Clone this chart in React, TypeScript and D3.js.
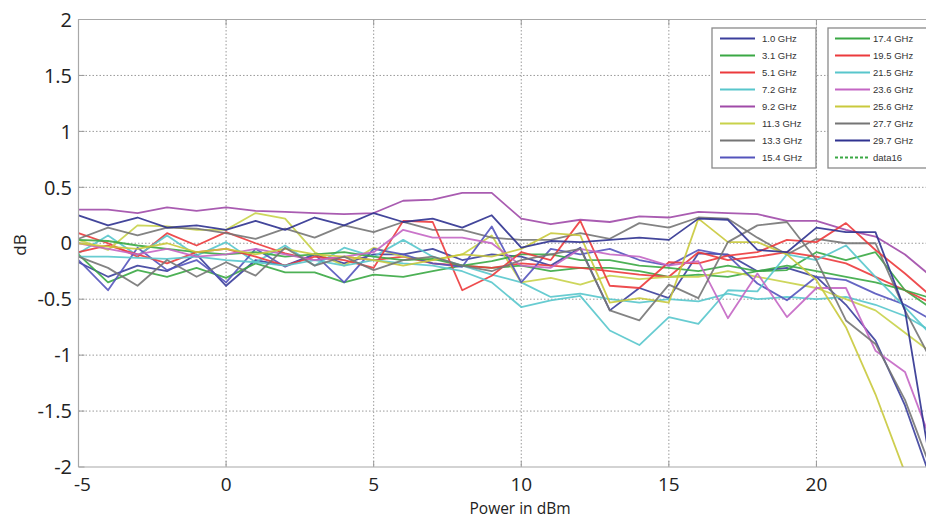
import React from "react";
import * as d3 from "d3";

const powers = [-5,-4,-3,-2,-1,0,1,2,3,4,5,6,7,8,9,10,11,12,13,14,15,16,17,18,19,20,21,22,23,24];

const seriesNames = ["1.0 GHz","3.1 GHz","5.1 GHz","7.2 GHz","9.2 GHz","11.3 GHz","13.3 GHz","15.4 GHz","17.4 GHz","19.5 GHz","21.5 GHz","23.6 GHz","25.6 GHz","27.7 GHz","29.7 GHz","data16"];
const seriesColors = ["#3b3f9c","#3aa844","#ec3a3c","#58c6cc","#a04aa8","#c8d24a","#757575","#5454bc","#3aa844","#ec3a3c","#58c6cc","#c466c4","#c9c93c","#757575","#2f3290","#3aa844"];

const s1_0 = [-0.17,-0.30,-0.20,-0.25,-0.10,-0.38,-0.15,-0.20,-0.10,-0.18,-0.10,-0.10,-0.05,-0.15,-0.10,-0.12,-0.20,-0.04,-0.60,-0.40,-0.49,-0.09,-0.10,-0.25,-0.22,-0.30,-0.55,-0.87,-1.45,-2.20];
const s3_1 = [-0.10,-0.35,-0.24,-0.30,-0.22,-0.31,-0.18,-0.26,-0.26,-0.35,-0.28,-0.30,-0.25,-0.20,-0.22,-0.20,-0.25,-0.22,-0.22,-0.25,-0.30,-0.28,-0.30,-0.25,-0.24,-0.08,-0.15,-0.08,-0.42,-0.60];
const s5_1 = [0.09,0.00,-0.12,0.09,-0.02,0.10,0.00,-0.09,-0.15,-0.12,-0.15,-0.12,-0.18,-0.20,-0.22,-0.18,-0.20,-0.22,-0.25,-0.28,-0.30,-0.08,-0.15,-0.12,-0.08,-0.12,-0.18,-0.30,-0.42,-0.55];
const s7_2 = [-0.09,0.07,-0.11,0.07,-0.11,0.01,-0.17,-0.02,-0.20,-0.04,-0.12,0.03,-0.12,-0.20,-0.28,-0.35,-0.48,-0.45,-0.50,-0.53,-0.50,-0.52,-0.45,-0.50,-0.48,-0.50,-0.48,-0.55,-0.65,-0.80];
const s9_2 = [0.30,0.30,0.27,0.32,0.29,0.32,0.29,0.28,0.27,0.26,0.27,0.38,0.39,0.45,0.45,0.22,0.17,0.21,0.19,0.24,0.23,0.28,0.27,0.26,0.20,0.20,0.12,0.06,-0.10,-0.32];
const s11_3 = [0.03,-0.06,0.16,0.15,0.12,0.12,0.27,0.22,-0.08,-0.20,-0.04,-0.12,-0.15,-0.10,0.07,-0.35,-0.31,-0.37,-0.29,-0.32,-0.30,-0.30,-0.25,-0.30,-0.35,-0.40,-0.50,-0.60,-0.80,-1.00];
const s13_3 = [0.04,0.14,0.07,0.14,0.13,0.09,0.04,0.13,0.05,0.16,0.10,0.19,0.12,0.12,0.05,0.03,0.03,0.09,0.04,0.18,0.14,0.23,0.22,0.05,-0.10,0.04,0.00,0.00,-0.60,-1.10];
const s15_4 = [-0.15,-0.42,-0.04,-0.24,-0.15,-0.35,-0.05,-0.21,-0.10,-0.35,-0.05,-0.10,-0.18,-0.21,0.15,-0.35,-0.05,-0.10,-0.05,-0.15,-0.20,-0.06,-0.11,-0.36,-0.51,-0.30,-0.33,-0.45,-0.55,-0.70];
const s17_4 = [0.03,0.02,-0.02,-0.05,-0.08,-0.10,-0.08,-0.12,-0.10,-0.08,-0.12,-0.15,-0.14,-0.20,-0.16,-0.10,-0.10,-0.15,-0.15,-0.20,-0.22,-0.25,-0.20,-0.25,-0.20,-0.25,-0.30,-0.35,-0.42,-0.50];
const s19_5 = [-0.08,-0.02,-0.10,-0.18,-0.08,-0.05,-0.12,-0.20,-0.12,-0.15,-0.22,0.20,0.19,-0.42,-0.29,-0.08,-0.15,0.20,-0.38,-0.40,-0.17,-0.18,-0.11,-0.08,0.03,0.01,0.18,-0.06,-0.27,-0.50];
const s21_5 = [-0.12,-0.12,-0.13,-0.14,-0.12,-0.15,-0.17,-0.20,-0.15,-0.20,-0.15,-0.18,-0.20,-0.25,-0.35,-0.57,-0.51,-0.47,-0.78,-0.91,-0.66,-0.72,-0.42,-0.43,-0.10,-0.15,-0.02,-0.30,-0.57,-0.85];
const s23_6 = [0.00,-0.05,-0.10,-0.05,-0.12,-0.10,-0.05,-0.10,-0.15,-0.12,-0.08,0.12,0.05,0.05,0.00,-0.20,-0.22,-0.05,-0.10,-0.12,-0.20,-0.16,-0.67,-0.27,-0.66,-0.40,-0.40,-0.96,-1.15,-1.85];
const s25_6 = [0.00,-0.03,-0.05,0.00,-0.08,-0.05,-0.10,-0.05,-0.10,-0.12,-0.15,-0.20,-0.15,-0.10,-0.12,-0.05,0.09,0.07,-0.53,-0.49,-0.53,0.22,0.01,0.01,-0.10,-0.33,-0.75,-1.35,-2.05,-2.60];
const s27_7 = [-0.12,-0.22,-0.38,-0.15,-0.30,-0.17,-0.29,-0.04,-0.20,-0.12,-0.24,-0.15,-0.12,-0.20,-0.25,-0.15,-0.10,-0.05,-0.60,-0.69,-0.37,-0.49,0.01,0.16,0.19,-0.15,-0.69,-0.90,-1.40,-2.10];
const s29_7 = [0.25,0.16,0.23,0.14,0.16,0.12,0.20,0.12,0.23,0.16,0.27,0.19,0.22,0.14,0.25,-0.04,0.02,0.01,0.03,0.05,0.03,0.22,0.21,-0.06,-0.08,0.14,0.10,0.10,-0.60,-2.20];

const seriesValues = [s1_0,s3_1,s5_1,s7_2,s9_2,s11_3,s13_3,s15_4,s17_4,s19_5,s21_5,s23_6,s25_6,s27_7,s29_7];

const xTicks = [-5,0,5,10,15,20];
const yTicks = [-2,-1.5,-1,-0.5,0,0.5,1,1.5,2];

const W = 926, H = 518;
const L = 78.5, R = 934.5, T = 19.5, B = 467;

export default function App() {
  const x = d3.scaleLinear().domain([-5, 24]).range([L, R]);
  const y = d3.scaleLinear().domain([-2, 2]).range([B, T]);
  const line = d3.line<number>().x((_, i) => x(powers[i])).y(d => y(d));
  const tickFont = "'Open Sans', 'Noto Sans', sans-serif";
  const legFont = "'Liberation Sans', Arial, sans-serif";
  const rowY = (i: number) => 38.5 + i * 17;

  return (
    <svg width={W} height={H} style={{ position: "absolute", left: 0, top: 0, background: "#fff" }}>
      <defs>
        <clipPath id="plot">
          <rect x={L} y={T} width={R - L} height={B - T} />
        </clipPath>
      </defs>
      <rect x={0} y={0} width={W} height={H} fill="#fff" />
      {/* grid */}
      {xTicks.filter(t => t !== -5).map(t => (
        <line key={"gx" + t} x1={x(t)} x2={x(t)} y1={T} y2={B} stroke="#9a9a9a" strokeWidth={1} strokeDasharray="1.5,2" />
      ))}
      {yTicks.filter(t => t !== -2 && t !== 2).map(t => (
        <line key={"gy" + t} x1={L} x2={R} y1={y(t)} y2={y(t)} stroke="#9a9a9a" strokeWidth={1} strokeDasharray="1.5,2" />
      ))}
      {/* ticks */}
      {xTicks.map(t => (
        <g key={"tx" + t}>
          <line x1={x(t)} x2={x(t)} y1={B} y2={B - 6} stroke="#999" />
          <line x1={x(t)} x2={x(t)} y1={T} y2={T + 6} stroke="#999" />
        </g>
      ))}
      {yTicks.map(t => (
        <line key={"ty" + t} x1={L} x2={L + 6} y1={y(t)} y2={y(t)} stroke="#999" />
      ))}
      {/* series */}
      <g clipPath="url(#plot)">
        {seriesValues.map((vals, i) => (
          <path key={seriesNames[i]} d={line(vals) || ""} fill="none" stroke={seriesColors[i]} strokeWidth={1.8} strokeOpacity={0.9} strokeLinejoin="round" />
        ))}
      </g>
      {/* frame */}
      <line x1={L} x2={L} y1={T} y2={B} stroke="#a8a8a8" strokeWidth={1.2} />
      <line x1={L} x2={R} y1={B} y2={B} stroke="#a8a8a8" strokeWidth={1.2} />
      <line x1={L} x2={R} y1={T} y2={T} stroke="#a8a8a8" strokeWidth={1.2} />
      {/* tick labels */}
      {yTicks.map(t => (
        <text key={"ly" + t} x={72} y={y(t)} dy="0.36em" textAnchor="end" fontFamily={tickFont} fontSize={20} fill="#222">{String(t)}</text>
      ))}
      {xTicks.map(t => (
        <text key={"lx" + t} x={x(t) + (t < 0 ? 4 : 0)} y={484} dy="0.36em" textAnchor="middle" fontFamily={tickFont} fontSize={19} fill="#222">{String(t)}</text>
      ))}
      <text x={520} y={508} dy="0.36em" textAnchor="middle" fontFamily={tickFont} fontSize={15.5} fill="#222">Power in dBm</text>
      <text transform="translate(20,245) rotate(-90)" dy="0.36em" textAnchor="middle" fontFamily={tickFont} fontSize={17} fill="#222">dB</text>
      {/* legend */}
      <rect x={712} y={28} width={104} height={140} fill="#fff" stroke="#8a8a8a" strokeWidth={1.3} />
      <rect x={828} y={28} width={110} height={140} fill="#fff" stroke="#8a8a8a" strokeWidth={1.3} />
      {seriesNames.map((name, i) => {
        const col = i < 8 ? 0 : 1;
        const r = i % 8;
        const lx = col === 0 ? 720 : 835;
        const tx = col === 0 ? 762 : 873;
        const yy = rowY(r);
        return (
          <g key={"lg" + name}>
            <line x1={lx} x2={lx + 35} y1={yy} y2={yy} stroke={seriesColors[i]} strokeWidth={2} strokeDasharray={name === "data16" ? "3,2" : undefined} />
            <text x={tx} y={yy} dy="0.35em" fontFamily={legFont} fontSize={9.5} fill="#333">{name}</text>
          </g>
        );
      })}
    </svg>
  );
}
